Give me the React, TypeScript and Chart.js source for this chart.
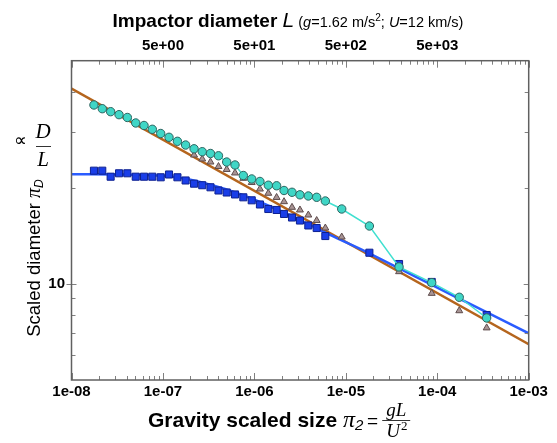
import React, { useEffect, useRef } from "react";
import { Chart, registerables } from "chart.js";

Chart.register(...registerables);

// ---- data (gravity scaled size pi2 vs scaled diameter piD) ----
const circleX = [1.76e-8, 2.17e-8, 2.68e-8, 3.31e-8, 4.08e-8, 5.04e-8, 6.21e-8, 7.65e-8, 9.45e-8, 1.165e-7, 1.44e-7, 1.77e-7, 2.19e-7, 2.69e-7, 3.31e-7, 4.05e-7, 4.98e-7, 6.14e-7, 7.57e-7, 9.35e-7, 1.15e-6, 1.42e-6, 1.75e-6, 2.11e-6, 2.58e-6, 3.15e-6, 3.89e-6, 4.8e-6, 5.97e-6, 9.02e-6, 1.81e-5, 3.82e-5, 8.7e-5, 1.74e-4, 3.47e-4];
const circleY = [36.33, 35.37, 34.62, 33.88, 33.2, 31.91, 31.34, 30.49, 29.58, 28.78, 27.96, 27.22, 26.49, 25.94, 25.61, 25.19, 24.08, 23.57, 21.85, 21.31, 20.93, 20.37, 20.29, 19.61, 19.36, 19.01, 18.85, 18.67, 18.18, 17.16, 15.18, 11.3, 10.09, 9.08, 7.82];

const squareX = [1.76e-8, 2.17e-8, 2.68e-8, 3.31e-8, 4.08e-8, 5.04e-8, 6.21e-8, 7.65e-8, 9.45e-8, 1.165e-7, 1.44e-7, 1.77e-7, 2.19e-7, 2.69e-7, 3.31e-7, 4.05e-7, 4.98e-7, 6.14e-7, 7.57e-7, 9.35e-7, 1.15e-6, 1.42e-6, 1.75e-6, 2.11e-6, 2.58e-6, 3.15e-6, 3.89e-6, 4.8e-6, 5.97e-6, 1.81e-5, 3.82e-5, 8.7e-5, 3.47e-4];
const squareY = [22.62, 22.62, 21.66, 22.2, 22.2, 21.66, 21.66, 21.66, 21.57, 22.01, 21.57, 21.08, 20.6, 20.37, 20.07, 19.61, 19.33, 19.06, 18.67, 18.27, 17.73, 17.16, 17.04, 16.56, 16.14, 15.79, 15.24, 14.96, 14.12, 12.52, 11.54, 10.14, 7.99];

const triangleX = [2.19e-7, 2.69e-7, 3.31e-7, 4.05e-7, 4.98e-7, 6.14e-7, 7.57e-7, 9.35e-7, 1.15e-6, 1.42e-6, 1.75e-6, 2.11e-6, 2.58e-6, 3.15e-6, 3.89e-6, 4.8e-6, 5.97e-6, 9.02e-6, 3.82e-5, 8.7e-5, 1.74e-4, 3.47e-4];
const triangleY = [25.33, 24.61, 24.08, 23.31, 22.82, 22.25, 21.41, 20.77, 19.82, 19.22, 18.65, 18.09, 17.37, 17.04, 16.43, 15.79, 14.96, 14.02, 10.92, 9.34, 8.24, 7.28];

const blueFitX = [1e-8, 3.39e-8, 7.22e-8, 1.54e-7, 2.54e-7, 4.77e-7, 8.96e-7, 1.68e-6, 3.15e-6, 6.71e-6, 1.69e-5, 6.47e-5, 2.28e-4, 1e-3];
const blueFitY = [22.06, 22.01, 21.89, 21.5, 20.85, 19.82, 18.58, 17.22, 15.85, 14.23, 12.58, 10.36, 8.65, 7.0];

const brownFitX = [1e-8, 1e-3];
const brownFitY = [40.9, 6.47];

// ---- axes ----
const bottomTickValues = [1e-8, 1e-7, 1e-6, 1e-5, 1e-4, 1e-3];
const bottomTickLabels = ["1e-08", "1e-07", "1e-06", "1e-05", "1e-04", "1e-03"];
const topTickValues = [1e-7, 1e-6, 1e-5, 1e-4];
const topTickLabels = ["5e+00", "5e+01", "5e+02", "5e+03"];
const yTickValues = [10];
const yTickLabels = ["10"];
const yMinorTicks = [6, 7, 8, 9, 20, 30, 40];
const xDecades = [-8, -7, -6, -5, -4];
const xMinorMultipliers = [2, 3, 4, 5, 6, 7, 8, 9];

const SANS = "'Liberation Sans', Arial, Helvetica, sans-serif";
const SERIF = "'Liberation Serif', 'Times New Roman', serif";

const pts = (xs: number[], ys: number[]) => xs.map((x, i) => ({ x, y: ys[i] }));

type Run = { text: string; font: string; dy?: number };

function drawRuns(ctx: CanvasRenderingContext2D, runs: Run[], anchor: number, baseline: number, align: "center" | "left" = "center") {
  let total = 0;
  const widths = runs.map((r) => {
    ctx.font = r.font;
    const w = ctx.measureText(r.text).width;
    total += w;
    return w;
  });
  const start = align === "center" ? anchor - total / 2 : anchor;
  let x = start;
  ctx.textAlign = "left";
  ctx.textBaseline = "alphabetic";
  runs.forEach((r, i) => {
    ctx.font = r.font;
    ctx.fillText(r.text, x, baseline + (r.dy || 0));
    x += widths[i];
  });
  return { start, end: start + total };
}

const framePlugin = {
  id: "frameTicks",
  afterDraw(chart: any) {
    const { ctx, chartArea: a, scales } = chart;
    const xs = scales.x;
    const ys = scales.y;
    ctx.save();
    ctx.strokeStyle = "#808080";
    ctx.lineWidth = 1;
    ctx.beginPath();
    const xTick = (v: number, len: number) => {
      const px = Math.round(xs.getPixelForValue(v)) + 0.5;
      ctx.moveTo(px, a.bottom);
      ctx.lineTo(px, a.bottom - len);
      ctx.moveTo(px, a.top);
      ctx.lineTo(px, a.top + len);
    };
    bottomTickValues.forEach((v) => xTick(v, 7));
    xDecades.forEach((d) => xMinorMultipliers.forEach((m) => xTick(m * Math.pow(10, d), 4)));
    const yTick = (v: number, len: number, out: number) => {
      const py = Math.round(ys.getPixelForValue(v)) + 0.5;
      ctx.moveTo(a.left - out, py);
      ctx.lineTo(a.left + len, py);
      ctx.moveTo(a.right, py);
      ctx.lineTo(a.right - len, py);
    };
    yTickValues.forEach((v) => yTick(v, 5, 5));
    yMinorTicks.forEach((v) => yTick(v, 4, 0));
    ctx.stroke();
    ctx.strokeStyle = "#606060";
    ctx.lineWidth = 1.5;
    ctx.strokeRect(a.left, a.top, a.right - a.left, a.bottom - a.top);
    ctx.restore();
  },
};

const titlePlugin = {
  id: "titles",
  afterDraw(chart: any) {
    const { ctx } = chart;
    ctx.save();
    ctx.fillStyle = "#000";
    // top title
    drawRuns(
      ctx,
      [
        { text: "Impactor diameter ", font: `bold 19px ${SANS}` },
        { text: "L", font: `italic 21px ${SANS}` },
        { text: " (", font: `14.5px ${SANS}` },
        { text: "g", font: `italic 14.5px ${SANS}` },
        { text: "=1.62 m/s", font: `14.5px ${SANS}` },
        { text: "2", font: `10px ${SANS}`, dy: -6 },
        { text: "; ", font: `14.5px ${SANS}` },
        { text: "U", font: `italic 14.5px ${SANS}` },
        { text: "=12 km/s)", font: `14.5px ${SANS}` },
      ],
      288,
      27
    );

    // bottom title
    const base = 427;
    const r = drawRuns(
      ctx,
      [
        { text: "Gravity scaled size ", font: `bold 21px ${SANS}` },
        { text: "\u03C0", font: `italic 24px ${SERIF}` },
        { text: "2", font: `italic 15px ${SANS}`, dy: 3 },
        { text: "\u2009=", font: `19px ${SANS}` },
      ],
      148,
      base,
      "left"
    );
    const fx = r.end + 18;
    const barY = 420;
    ctx.textAlign = "center";
    ctx.font = `italic 19px ${SERIF}`;
    ctx.fillText("gL", fx, barY - 4);
    ctx.fillText("U", fx - 3, barY + 17);
    ctx.font = `13px ${SERIF}`;
    ctx.fillText("2", fx + 8, barY + 10);
    ctx.strokeStyle = "#000";
    ctx.lineWidth = 0.8;
    ctx.beginPath();
    ctx.moveTo(fx - 14, barY + 0.5);
    ctx.lineTo(fx + 14, barY + 0.5);
    ctx.stroke();

    // left title (rotated)
    ctx.save();
    ctx.translate(40, 258);
    ctx.rotate(-Math.PI / 2);
    drawRuns(
      ctx,
      [
        { text: "Scaled diameter ", font: `18.5px ${SANS}` },
        { text: "\u03C0", font: `italic 20px ${SERIF}` },
        { text: "D", font: `italic 12px ${SANS}`, dy: 3 },
      ],
      0,
      0
    );
    ctx.restore();

    // proportional to D/L
    ctx.textAlign = "center";
    ctx.textBaseline = "middle";
    ctx.font = `18px ${SANS}`;
    ctx.fillText("\u221D", 20, 141);
    ctx.font = `italic 21px ${SERIF}`;
    ctx.fillText("D", 43, 132);
    ctx.fillText("L", 43, 160);
    ctx.lineWidth = 0.8;
    ctx.beginPath();
    ctx.moveTo(36, 146.5);
    ctx.lineTo(51, 146.5);
    ctx.stroke();
    ctx.restore();
  },
};

export default function App() {
  const ref = useRef<HTMLCanvasElement>(null);
  useEffect(() => {
    const tickFont = { family: SANS, size: 15, weight: "bold" as const };
    const chart = new Chart(ref.current as HTMLCanvasElement, {
      type: "line",
      data: {
        datasets: [
          {
            label: "circles",
            data: pts(circleX, circleY),
            showLine: true,
            borderColor: "#40e0d0",
            borderWidth: 1.5,
            pointStyle: "circle",
            pointRadius: 4.2,
            pointBackgroundColor: "#3fd6c6",
            pointBorderColor: "#2f6460",
            pointBorderWidth: 1,
            order: 1,
          },
          {
            label: "squares",
            data: pts(squareX, squareY),
            showLine: false,
            pointStyle: "rect",
            pointRadius: 5,
            pointBackgroundColor: "#1a3ee8",
            pointBorderColor: "#0d2090",
            pointBorderWidth: 1,
            order: 2,
          },
          {
            label: "triangles",
            data: pts(triangleX, triangleY),
            showLine: false,
            pointStyle: "triangle",
            pointRadius: 4,
            pointBackgroundColor: "#a89494",
            pointBorderColor: "#5e4c4c",
            pointBorderWidth: 1,
            order: 3,
          },
          {
            label: "blue fit",
            data: pts(blueFitX, blueFitY),
            showLine: true,
            borderColor: "#2a5cff",
            borderWidth: 2.5,
            pointRadius: 0,
            cubicInterpolationMode: "monotone",
            order: 4,
          },
          {
            label: "brown fit",
            data: pts(brownFitX, brownFitY),
            showLine: true,
            borderColor: "#b5651d",
            borderWidth: 2.5,
            pointRadius: 0,
            order: 5,
          },
        ],
      },
      options: {
        animation: false,
        responsive: false,
        devicePixelRatio: 1,
        layout: { padding: { left: 0, right: 28.3, top: 0, bottom: 0 } },
        plugins: { legend: { display: false }, tooltip: { enabled: false }, title: { display: false } },
        elements: { line: { fill: false } },
        scales: {
          x: {
            type: "logarithmic",
            position: "bottom",
            min: 1e-8,
            max: 1e-3,
            grid: { display: false },
            border: { display: false },
            ticks: {
              font: tickFont,
              color: "#000",
              padding: -5,
              maxRotation: 0,
              autoSkip: false,
              callback: (_v: any, i: number) => bottomTickLabels[i],
            },
            afterBuildTicks: (s: any) => {
              s.ticks = bottomTickValues.map((v) => ({ value: v }));
            },
            afterFit: (s: any) => {
              s.height = 63;
            },
          },
          x2: {
            type: "logarithmic",
            position: "top",
            min: 1e-8,
            max: 1e-3,
            grid: { display: false },
            border: { display: false },
            ticks: {
              font: tickFont,
              color: "#000",
              padding: -2,
              maxRotation: 0,
              autoSkip: false,
              callback: (_v: any, i: number) => topTickLabels[i],
            },
            afterBuildTicks: (s: any) => {
              s.ticks = topTickValues.map((v) => ({ value: v }));
            },
            afterFit: (s: any) => {
              s.height = 60.7;
            },
          },
          y: {
            type: "logarithmic",
            position: "left",
            min: 5,
            max: 50,
            grid: { display: false },
            border: { display: false },
            ticks: {
              font: tickFont,
              color: "#000",
              padding: -1.5,
              autoSkip: false,
              callback: (_v: any, i: number) => yTickLabels[i],
            },
            afterBuildTicks: (s: any) => {
              s.ticks = yTickValues.map((v) => ({ value: v }));
            },
            afterFit: (s: any) => {
              s.width = 71.5;
            },
          },
        },
      },
      plugins: [framePlugin, titlePlugin],
    } as any);
    return () => chart.destroy();
  }, []);
  return (
    <div style={{ position: "fixed", left: 0, top: 0, width: 557, height: 443, background: "#fff" }}>
      <canvas ref={ref} width={557} height={443} style={{ display: "block" }} />
    </div>
  );
}
